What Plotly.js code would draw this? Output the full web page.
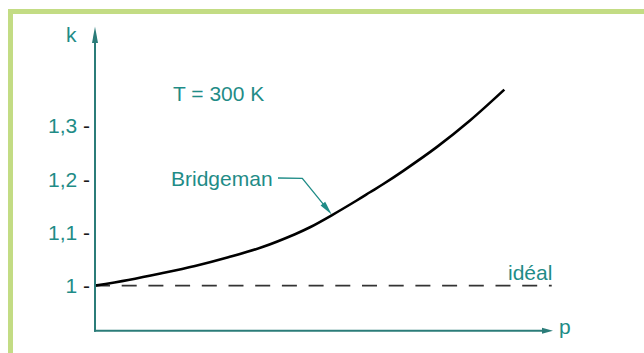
<!DOCTYPE html>
<html><head><meta charset="utf-8">
<script src="https://cdn.plot.ly/plotly-3.0.1.min.js"></script>
<style>html,body{margin:0;padding:0;background:#fff;overflow:hidden}#chart{width:644px;height:353px}</style>
</head><body><div id="chart"></div>
<script>
// ---- data ----
const pressure   = [0, 7.27, 14.56, 21.83, 29.10, 36.40, 43.67, 46.94, 51.68, 57.14, 60.04, 62.95, 67.31, 74.61, 81.88, 89.37];
const kBridgeman = [1.000, 1.0107, 1.0233, 1.037, 1.0534, 1.0722, 1.0968, 1.1098, 1.1323, 1.1601, 1.1756, 1.1911, 1.2159, 1.2604, 1.3105, 1.3685];
const idealPressure = [0, 99.72];
const kIdeal        = [1, 1];
const yTickVals   = [1, 1.1, 1.2, 1.3];
const yTickLabels = ['1', '1,1', '1,2', '1,3'];
const yAxisLabel = 'k';
const xAxisLabel = 'p';
const tempLabel = 'T = 300 K';
const curveLabel = 'Bridgeman';
const idealLabel = 'idéal';

// ---- layout helpers ----
const W = 644, H = 353, M = {l: 95, r: 91, t: 20, b: 22};
const pw = W - M.l - M.r, ph = H - M.t - M.b;
const xRange = [0, 100];
const yRange = [0.9148, 1.4994];
const fx = px => (px - M.l) / pw;          // pixel -> paper x
const fy = py => (H - M.b - py) / ph;      // pixel -> paper y

const teal = '#1f8c87';
const axisCol = '#2b7c79';
const frameCol = '#c3dc84';
const font = 'Liberation Sans, Arial, sans-serif';
const fs = 21;

// leader arrowhead geometry (pixel space)
const corner = [302.3, 178.3], tip = [331.7, 214.5];
let dx = tip[0] - corner[0], dy = -(tip[1] - corner[1]);
const dl = Math.hypot(dx, dy); dx /= dl; dy /= dl;
const hl = 14, hw = 3;
const bx = -hl * dx, by = -hl * dy;
const headPath = `M0,0 L${(bx - hw * dy).toFixed(2)},${(by + hw * dx).toFixed(2)} L${(bx + hw * dy).toFixed(2)},${(by - hw * dx).toFixed(2)} Z`;

const traces = [
  {x: idealPressure, y: kIdeal, type: 'scatter', mode: 'lines',
   line: {color: '#333', width: 1.6, dash: '15px,11.7px'}, hoverinfo: 'skip'},
  {x: pressure, y: kBridgeman, type: 'scatter', mode: 'lines',
   line: {color: '#000', width: 2.6, shape: 'spline', smoothing: 1}, hoverinfo: 'skip'}
];

const shapes = [
  // frame
  {type: 'rect', xref: 'paper', yref: 'paper', x0: fx(8), x1: fx(660), y0: fy(14), y1: fy(9), fillcolor: frameCol, line: {width: 0}, layer: 'below'},
  {type: 'rect', xref: 'paper', yref: 'paper', x0: fx(8), x1: fx(13), y0: fy(370), y1: fy(9), fillcolor: frameCol, line: {width: 0}, layer: 'below'},
  // axes
  {type: 'line', xref: 'paper', yref: 'paper', x0: 0, x1: 0, y0: fy(331.7), y1: fy(40), line: {color: axisCol, width: 2}},
  {type: 'line', xref: 'paper', yref: 'paper', x0: fx(94), x1: fx(545), y0: fy(330.7), y1: fy(330.7), line: {color: axisCol, width: 2}},
  {type: 'path', xref: 'paper', yref: 'paper', xsizemode: 'pixel', ysizemode: 'pixel',
   xanchor: 0, yanchor: fy(26.5), path: 'M0,0 L-3,-16.5 L3,-16.5 Z', fillcolor: axisCol, line: {width: 0}},
  {type: 'path', xref: 'paper', yref: 'paper', xsizemode: 'pixel', ysizemode: 'pixel',
   xanchor: fx(553), yanchor: fy(330.7), path: 'M0,0 L-11,3 L-11,-3 Z', fillcolor: axisCol, line: {width: 0}},
  // leader for Bridgeman
  {type: 'path', xref: 'paper', yref: 'paper',
   path: `M${fx(278)},${fy(178)} L${fx(corner[0])},${fy(corner[1])} L${fx(tip[0] - 6 * dx)},${fy(tip[1] + 6 * dy)}`,
   line: {color: teal, width: 1.3}},
  {type: 'path', xref: 'paper', yref: 'paper', xsizemode: 'pixel', ysizemode: 'pixel',
   xanchor: fx(tip[0]), yanchor: fy(tip[1]), path: headPath, fillcolor: teal, line: {width: 0}}
];

const txt = (text, px, py, xanchor) => ({text, xref: 'paper', yref: 'paper', x: fx(px), y: fy(py),
  xanchor, yanchor: 'middle', showarrow: false, font: {family: font, size: fs, color: teal}});

const annotations = [
  txt(yAxisLabel, 71, 35, 'center'),
  txt(tempLabel, 171, 93, 'left'),
  txt(curveLabel, 275, 178, 'right'),
  txt(idealLabel, 554, 272, 'right'),
  txt(xAxisLabel, 557, 326, 'left')
];

const layout = {
  width: W, height: H, margin: M,
  paper_bgcolor: '#fff', plot_bgcolor: 'rgba(0,0,0,0)',
  showlegend: false,
  xaxis: {range: xRange, visible: false, fixedrange: true},
  yaxis: {range: yRange, tickmode: 'array', tickvals: yTickVals,
          ticktext: yTickLabels.map(t => t + ' <span style="color:#1a1a1a">-</span>'),
          ticks: '', showline: false, showgrid: false, zeroline: false, fixedrange: true,
          ticklabelstandoff: 4,
          tickfont: {family: font, size: fs, color: teal}},
  shapes, annotations
};

Plotly.newPlot('chart', traces, layout, {staticPlot: true, displayModeBar: false});
</script></body></html>
